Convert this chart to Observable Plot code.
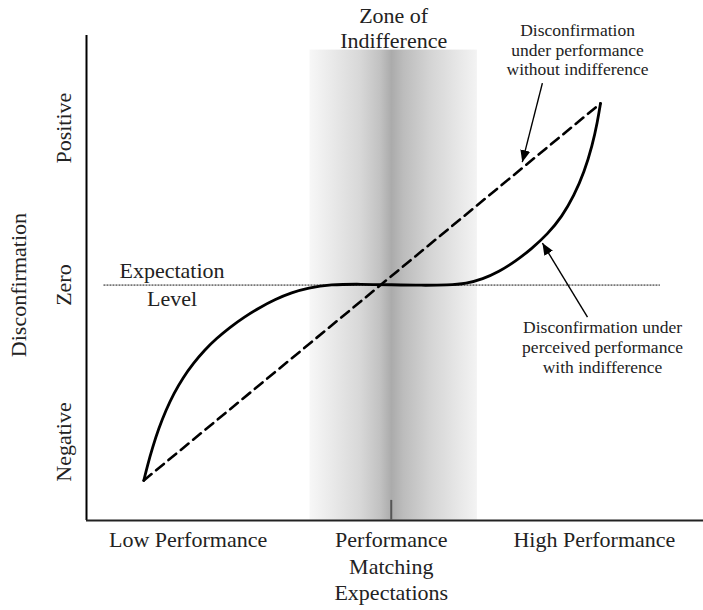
<!DOCTYPE html>
<html>
<head>
<meta charset="utf-8">
<script src="https://cdn.jsdelivr.net/npm/d3@7"></script>
<script src="https://cdn.jsdelivr.net/npm/@observablehq/plot@0.6"></script>
<style>
  html, body { margin: 0; padding: 0; background: #fff; }
  #chart svg { display: block; }
</style>
</head>
<body>
<div id="chart"></div>
<script>
// ---- Data (abstract units: performance on x, disconfirmation on y) ----
const xTickValues = [-1, 0, 1];
const xTickLabels = ["Low Performance", "Performance\nMatching\nExpectations", "High Performance"];
const yTickValues = [-1, 0, 1];
const yTickLabels = ["Negative", "Zero", "Positive"];
const yAxisTitle = "Disconfirmation";

// Solid curve: disconfirmation under perceived performance with indifference
const curveX = [-1.218, -1.200, -1.175, -1.145, -1.110, -1.070, -1.025, -0.975, -0.920, -0.860, -0.795, -0.725, -0.650, -0.570, -0.490, -0.410, -0.300, -0.150, 0.000, 0.150, 0.280, 0.370, 0.450, 0.530, 0.610, 0.690, 0.770, 0.840, 0.900, 0.950, 0.990, 1.015, 1.030];
const curveY = [-1.245, -1.150, -1.035, -0.915, -0.800, -0.690, -0.590, -0.500, -0.415, -0.340, -0.270, -0.205, -0.145, -0.090, -0.048, -0.018, 0.004, 0.006, 0.002, -0.002, 0.000, 0.010, 0.038, 0.085, 0.150, 0.230, 0.325, 0.435, 0.570, 0.720, 0.890, 1.040, 1.157];

// Dashed line: disconfirmation under performance without indifference
const lineX = [-1.218, 1.030];
const lineY = [-1.245, 1.157];

// Expectation level
const expectationLevel = 0;
const expectationExtent = [-1.414, 1.325];
const expectationLabel = "Expectation\nLevel";
const expectationLabelPos = [-1.079, 0.169];

// Zone of indifference
const zoneExtent = [-0.40, 0.424];
const zoneTop = 1.497;
const zoneLabel = "Zone of\nIndifference";
const centerTickHeight = 0.128;

// Annotations
const annotationTexts = [
  "Disconfirmation\nunder performance\nwithout indifference",
  "Disconfirmation under\nperceived performance\nwith indifference"
];
const annotationX = [0.917, 1.040];
const annotationY = [1.678, -0.218];
const arrowFromX = [0.744, 0.966];
const arrowFromY = [1.287, -0.204];
const arrowToX = [0.645, 0.744];
const arrowToY = [0.783, 0.268];

const xDomain = [-1.5, 1.537];
const yDomain = [-1.5, 1.59];

// ---- Build tables ----
const curve = curveX.map((x, i) => ({x, y: curveY[i]}));
const dashed = lineX.map((x, i) => ({x, y: lineY[i]}));
const xTicks = xTickValues.map((v, i) => ({v, label: xTickLabels[i]}));
const yTicks = yTickValues.map((v, i) => ({v, label: yTickLabels[i]}));
const annotations = annotationTexts.map((t, i) => ({t, x: annotationX[i], y: annotationY[i]}));
const arrows = arrowFromX.map((x1, i) => ({x1, y1: arrowFromY[i], x2: arrowToX[i], y2: arrowToY[i]}));

const serif = "Liberation Serif";
const ink = "#222";
const big = 22;
const small = 17.5;

function filledArrow(color) {
  const m = d3.create("svg:marker")
    .attr("viewBox", "-12 -5 12 10")
    .attr("markerWidth", 12)
    .attr("markerHeight", 10)
    .attr("markerUnits", "userSpaceOnUse")
    .attr("orient", "auto")
    .attr("fill", "#000")
    .attr("stroke", "none");
  m.append("path").attr("d", "M-12,-5L0,0L-12,5Z");
  return m.node();
}

function gradientDefs() {
  const defs = d3.create("svg:defs");
  const g = defs.append("linearGradient").attr("id", "zoneGrad")
    .attr("x1", "0%").attr("x2", "100%").attr("y1", "0%").attr("y2", "0%");
  const stops = [
    [0, "#f7f7f7"], [0.12, "#ebebeb"], [0.3, "#d8d8d8"], [0.42, "#c2c2c2"],
    [0.49, "#ababab"], [0.56, "#bcbcbc"], [0.72, "#d4d4d4"], [0.88, "#e6e6e6"], [1, "#f3f3f3"]
  ];
  for (const [o, c] of stops) g.append("stop").attr("offset", o).attr("stop-color", c);
  return defs.node();
}

const textBase = {fontFamily: serif, fill: ink};

const chart = Plot.plot({
  width: 703,
  height: 610,
  marginLeft: 86,
  marginRight: 0,
  marginTop: 35,
  marginBottom: 90,
  x: {domain: xDomain, axis: null},
  y: {domain: yDomain, axis: null},
  style: {fontFamily: serif, color: ink, background: "#fff"},
  marks: [
    gradientDefs,
    Plot.rect([0], {x1: zoneExtent[0], x2: zoneExtent[1], y1: yDomain[0], y2: zoneTop, fill: "url(#zoneGrad)"}),
    Plot.ruleY([expectationLevel], {x1: expectationExtent[0], x2: expectationExtent[1], stroke: "#111", strokeWidth: 1, strokeDasharray: "2,1"}),
    Plot.line(dashed, {x: "x", y: "y", stroke: "#000", strokeWidth: 2.6, strokeDasharray: "10,6"}),
    Plot.line(curve, {x: "x", y: "y", curve: "basis", stroke: "#000", strokeWidth: 2.8}),
    // axes
    Plot.ruleX([xDomain[0]], {y1: yDomain[0], y2: yDomain[1], stroke: "#000", strokeWidth: 2}),
    Plot.ruleY([yDomain[0]], {x1: xDomain[0], x2: xDomain[1], stroke: "#222", strokeWidth: 2}),
    Plot.ruleX([0], {y1: yDomain[0], y2: yDomain[0] + centerTickHeight, stroke: "#555", strokeWidth: 2}),
    // tick labels
    Plot.text(xTicks, {...textBase, x: "v", text: "label", frameAnchor: "bottom", lineAnchor: "top", dy: 8, lineHeight: 1.2, fontSize: big}),
    Plot.text(yTicks, {...textBase, y: "v", text: "label", frameAnchor: "left", textAnchor: "middle", dx: -23, rotate: -90, lineAnchor: "middle", fontSize: big}),
    Plot.text([yAxisTitle], {...textBase, y: expectationLevel, text: d => d, frameAnchor: "left", textAnchor: "middle", dx: -68, rotate: -90, lineAnchor: "middle", fontSize: big}),
    // zone label
    Plot.text([zoneLabel], {...textBase, x: (zoneExtent[0] + zoneExtent[1]) / 2, text: d => d, frameAnchor: "top", lineAnchor: "top", dy: -30.75, lineHeight: 1.14, fontSize: big}),
    // expectation label
    Plot.text([expectationLabel], {...textBase, x: expectationLabelPos[0], y: expectationLabelPos[1], text: d => d, lineAnchor: "top", lineHeight: 1.27, fontSize: big}),
    // annotations
    Plot.text(annotations, {...textBase, x: "x", y: "y", text: "t", lineAnchor: "top", lineHeight: 1.13, fontSize: small}),
    Plot.link(arrows, {x1: "x1", y1: "y1", x2: "x2", y2: "y2", stroke: "#000", strokeWidth: 1.4, markerEnd: filledArrow})
  ]
});

document.getElementById("chart").appendChild(chart);
</script>
</body>
</html>
